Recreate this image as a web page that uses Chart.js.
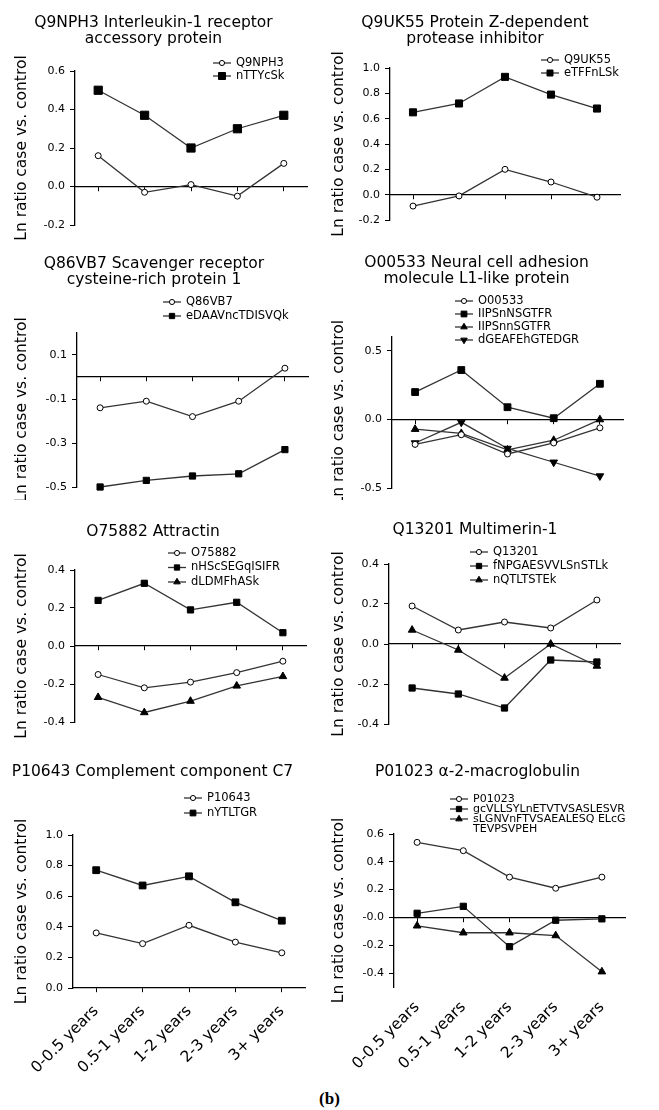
<!DOCTYPE html>
<html>
<head>
<meta charset="utf-8">
<script src="https://cdn.jsdelivr.net/npm/chart.js@4.4.1/dist/chart.umd.min.js"></script>
<style>
  html, body { margin: 0; padding: 0; background: #fff; overflow: hidden; }
  #page { position: relative; width: 659px; height: 1110px; overflow: hidden; }
  #page canvas { position: absolute; }
  #caption { position: absolute; left: 0; top: 1089px; width: 659px; text-align: center;
             font: bold 17px "Liberation Serif", "DejaVu Serif", serif; color: #000; }
</style>
</head>
<body>
<div id="page">
  <div id="caption">(b)</div>
</div>
<script>
// categories
const years = ['0-0.5 years', '0.5-1 years', '1-2 years', '2-3 years', '3+ years'];

// Q9NPH3 Interleukin-1 receptor accessory protein
const q9nph3 = [0.16, -0.03, 0.01, -0.05, 0.12];
const nTTYcSk = [0.50, 0.37, 0.20, 0.30, 0.37];
const q9nph3Ticks = [-0.2, 0.0, 0.2, 0.4, 0.6];

// Q9UK55 Protein Z-dependent protease inhibitor
const q9uk55 = [-0.09, -0.01, 0.20, 0.10, -0.02];
const eTFFnLSk = [0.65, 0.72, 0.93, 0.79, 0.68];
const q9uk55Ticks = [-0.2, 0.0, 0.2, 0.4, 0.6, 0.8, 1.0];

// Q86VB7 Scavenger receptor cysteine-rich protein 1
const q86vb7 = [-0.14, -0.11, -0.18, -0.11, 0.04];
const eDAAVncTDISVQk = [-0.50, -0.47, -0.45, -0.44, -0.33];
const q86vb7Ticks = [-0.5, -0.3, -0.1, 0.1];

// O00533 Neural cell adhesion molecule L1-like protein
const o00533 = [-0.18, -0.11, -0.25, -0.17, -0.06];
const iipsnNSGTFR = [0.20, 0.36, 0.09, 0.01, 0.26];
const iipsnnSGTFR = [-0.07, -0.10, -0.22, -0.15, 0.00];
const dGEAFEhGTEDGR = [-0.17, -0.02, -0.21, -0.31, -0.41];
const o00533Ticks = [-0.5, 0.0, 0.5];

// O75882 Attractin
const o75882 = [-0.15, -0.22, -0.19, -0.14, -0.08];
const nHScSEGqISIFR = [0.24, 0.33, 0.19, 0.23, 0.07];
const dLDMFhASk = [-0.27, -0.35, -0.29, -0.21, -0.16];
const o75882Ticks = [-0.4, -0.2, 0.0, 0.2, 0.4];

// Q13201 Multimerin-1
const q13201 = [0.19, 0.07, 0.11, 0.08, 0.22];
const fNPGAESVVLSnSTLk = [-0.22, -0.25, -0.32, -0.08, -0.09];
const nQTLTSTEk = [0.07, -0.03, -0.17, 0.00, -0.11];
const q13201Ticks = [-0.4, -0.2, 0.0, 0.2, 0.4];

// P10643 Complement component C7
const p10643 = [0.36, 0.29, 0.41, 0.30, 0.23];
const nYTLTGR = [0.77, 0.67, 0.73, 0.56, 0.44];
const p10643Ticks = [0.0, 0.2, 0.4, 0.6, 0.8, 1.0];

// P01023 alpha-2-macroglobulin
const p01023 = [0.54, 0.48, 0.29, 0.21, 0.29];
const gcVLLSYLnETVTVSASLESVR = [0.03, 0.08, -0.21, -0.02, -0.01];
const sLGNVnFTVSAEALESQELcG = [-0.06, -0.11, -0.11, -0.13, -0.39];
const p01023Ticks = [-0.4, -0.2, 0.0, 0.2, 0.4, 0.6];
const p01023TickLabels = ['-0.4', '-0.2', '-0.0', '0.2', '0.4', '0.6'];

const FONT = 'DejaVu Sans';
const LINE = '#333';

// marker looks
function look(kind, r) {
    const base = { borderColor: LINE, borderWidth: 1.3, pointBorderColor: '#000', pointBorderWidth: 1,
                   pointBackgroundColor: '#000', tension: 0, fill: false, clip: false };
    if (kind === 'circle') return Object.assign(base, { pointStyle: 'circle', pointRadius: 3, pointBackgroundColor: '#fff' });
    if (kind === 'square') return Object.assign(base, { pointStyle: 'rect', pointRadius: r || 4.4 });
    if (kind === 'tri') return Object.assign(base, { pointStyle: 'triangle', pointRadius: 4.4 });
    return Object.assign(base, { pointStyle: 'triangle', pointRadius: 4.4, pointRotation: 180 });
}

// legend: short line with marker, then the label
const lineLegend = {
    id: 'lineLegend',
    afterDraw(chart, args, o) {
        const ctx = chart.ctx;
        ctx.save();
        ctx.font = o.size + 'px "' + FONT + '"';
        ctx.textBaseline = 'middle';
        let y = o.y;
        chart.data.datasets.forEach(ds => {
            ctx.strokeStyle = ds.borderColor;
            ctx.lineWidth = ds.borderWidth;
            ctx.beginPath();
            ctx.moveTo(o.x, y);
            ctx.lineTo(o.x + 18, y);
            ctx.stroke();
            ctx.fillStyle = ds.pointBackgroundColor;
            ctx.strokeStyle = ds.pointBorderColor;
            ctx.lineWidth = ds.pointBorderWidth;
            Chart.helpers.drawPoint(ctx, {
                pointStyle: ds.pointStyle,
                radius: ds.pointRadius * 0.85,
                rotation: ds.pointRotation || 0,
                borderWidth: ds.pointBorderWidth
            }, o.x + 9, y);
            ctx.fillStyle = '#000';
            const lines = ds.label.split('\n');
            lines.forEach((t, k) => ctx.fillText(t, o.x + 23, y + k * o.rowH));
            y += lines.length * o.rowH;
        });
        ctx.restore();
    }
};

const panels = [
    { title: ['Q9NPH3 Interleukin-1 receptor', 'accessory protein'], min: -0.2, max: 0.6, ticks: q9nph3Ticks,
      series: [['Q9NPH3', q9nph3, 'circle'], ['nTTYcSk', nTTYcSk, 'square', 5.8]],
      cx: 0, cy: 0, ch: 250, plot: [75, 71, 307, 225], titleY: 23, yTitleX: 22, legend: { x: 213, y: 63, rowH: 13, size: 11.5 } },
    { title: ['Q9UK55 Protein Z-dependent', 'protease inhibitor'], min: -0.2, max: 1.0, ticks: q9uk55Ticks,
      series: [['Q9UK55', q9uk55, 'circle'], ['eTFFnLSk', eTFFnLSk, 'square', 5]],
      cx: 330, cy: 0, ch: 250, plot: [390, 68, 620, 220], titleY: 23, yTitleX: 339, legend: { x: 541, y: 60, rowH: 13, size: 11.5 } },
    { title: ['Q86VB7 Scavenger receptor', 'cysteine-rich protein 1'], min: -0.5, max: 0.2, ticks: q86vb7Ticks,
      series: [['Q86VB7', q86vb7, 'circle'], ['eDAAVncTDISVQk', eDAAVncTDISVQk, 'square']],
      cx: 0, cy: 250, ch: 250, plot: [77, 333, 308, 487], titleY: 264, yTitleX: 22, legend: { x: 163, y: 302, rowH: 14, size: 11.5 } },
    { title: ['O00533 Neural cell adhesion', 'molecule L1-like protein'], min: -0.5, max: 0.6, ticks: o00533Ticks,
      series: [['O00533', o00533, 'circle'], ['IIPSnNSGTFR', iipsnNSGTFR, 'square', 4.8],
               ['IIPSnnSGTFR', iipsnnSGTFR, 'tri'], ['dGEAFEhGTEDGR', dGEAFEhGTEDGR, 'trid']],
      cx: 330, cy: 250, ch: 250, plot: [392, 337, 623, 490], titleY: 263, yTitleX: 339, legend: { x: 455, y: 301, rowH: 13, size: 11.5 } },
    { title: ['O75882 Attractin'], min: -0.4, max: 0.4, ticks: o75882Ticks,
      series: [['O75882', o75882, 'circle'], ['nHScSEGqISIFR', nHScSEGqISIFR, 'square'], ['dLDMFhASk', dLDMFhASk, 'tri']],
      cx: 0, cy: 500, ch: 240, plot: [75, 570, 306, 722], titleY: 532, yTitleX: 22, legend: { x: 168, y: 553, rowH: 14.5, size: 11.5 } },
    { title: ['Q13201 Multimerin-1'], min: -0.4, max: 0.4, ticks: q13201Ticks,
      series: [['Q13201', q13201, 'circle'], ['fNPGAESVVLSnSTLk', fNPGAESVVLSnSTLk, 'square'], ['nQTLTSTEk', nQTLTSTEk, 'tri']],
      cx: 330, cy: 500, ch: 240, plot: [389, 564, 620, 724], titleY: 530, yTitleX: 339, legend: { x: 470, y: 552, rowH: 14, size: 11.5 } },
    { title: ['P10643 Complement component C7'], min: 0, max: 1.0, ticks: p10643Ticks,
      series: [['P10643', p10643, 'circle'], ['nYTLTGR', nYTLTGR, 'square', 4.8]],
      cx: 0, cy: 740, ch: 370, plot: [73, 835, 305, 988], titleY: 772, yTitleX: 22, legend: { x: 184, y: 798, rowH: 15, size: 11.5 },
      years: true, labelPad: 14 },
    { title: ['P01023 \u03b1-2-macroglobulin'], min: -0.5, max: 0.6, ticks: p01023Ticks, tickLabels: p01023TickLabels,
      series: [['P01023', p01023, 'circle'], ['gcVLLSYLnETVTVSASLESVR', gcVLLSYLnETVTVSASLESVR, 'square'],
               ['sLGNVnFTVSAEALESQ ELcG\nTEVPSVPEH', sLGNVnFTVSAEALESQELcG, 'tri']],
      cx: 330, cy: 740, ch: 370, plot: [394, 834, 625, 987], titleY: 772, yTitleX: 339, legend: { x: 450, y: 799, rowH: 10, size: 11 },
      years: true, labelPad: 11 }
];

const page = document.getElementById('page');

function makePanel(p) {
    const [L, T, R, B] = p.plot;
    const cw = L + R - 2 * p.cx;   // canvas centred on the plot so the title centres on it
    const canvas = document.createElement('canvas');
    canvas.width = cw;
    canvas.height = p.ch;
    canvas.style.left = p.cx + 'px';
    canvas.style.top = p.cy + 'px';
    page.appendChild(canvas);

    // the label axis box has to be tall enough, labels are clipped to it
    const xlH = p.years ? 100 : 0;
    const titleLH = 15.5;
    const tPadTop = (p.titleY - p.cy) - titleLH / 2;
    const tPadBottom = (T - p.cy) - tPadTop - p.title.length * titleLH;
    const labels = p.tickLabels || p.ticks.map(v => v.toFixed(1));

    const scales = {
        x: {
            type: 'category', offset: true, position: { y: 0 },
            grid: { offset: false, drawOnChartArea: false, tickLength: 4, color: '#000', lineWidth: 1 },
            border: { color: '#000', width: 1.2 },
            ticks: { display: false }
        },
        y: {
            min: p.min, max: p.max,
            afterFit: s => { s.width = L - p.cx; },
            afterBuildTicks: s => { s.ticks = p.ticks.map(v => ({ value: v })); },
            ticks: { callback: (v, i) => labels[i], font: { family: FONT, size: 11 }, color: '#000', padding: 5 },
            grid: { drawOnChartArea: false, tickLength: 5, color: '#000', lineWidth: 1 },
            border: { color: '#000', width: 1.3 },
            title: { display: true, text: 'Ln ratio case vs. control', color: '#000',
                     font: { family: FONT, size: 15.5 },
                     padding: { top: Math.max(0, p.yTitleX - p.cx - 9.3), bottom: 0 } }
        }
    };
    if (p.years) {
        scales.xl = {
            type: 'category', offset: true, position: 'bottom',
            afterFit: s => { s.height = xlH; },
            grid: { display: false, drawTicks: false },
            border: { display: false },
            ticks: { autoSkip: false, minRotation: 45, maxRotation: 45, padding: p.labelPad,
                     font: { family: FONT, size: 15.5 }, color: '#000' }
        };
    }

    new Chart(canvas, {
        type: 'line',
        data: {
            labels: years,
            datasets: p.series.map(s => Object.assign({ label: s[0], data: s[1], xAxisID: 'x', yAxisID: 'y' }, look(s[2], s[3])))
        },
        options: {
            responsive: false,
            animation: false,
            events: [],
            layout: { padding: { left: 0, top: 0, right: cw - (R - p.cx), bottom: p.ch - (B - p.cy) - xlH } },
            scales: scales,
            plugins: {
                legend: { display: false },
                tooltip: { enabled: false },
                title: { display: true, text: p.title, color: '#000', fullSize: true,
                         font: { family: FONT, size: 15.5, weight: 'normal', lineHeight: 1 },
                         padding: { top: tPadTop, bottom: tPadBottom } },
                lineLegend: { x: p.legend.x - p.cx, y: p.legend.y - p.cy, rowH: p.legend.rowH, size: p.legend.size }
            }
        },
        plugins: [lineLegend]
    });
}

panels.forEach(makePanel);
</script>
</body>
</html>
